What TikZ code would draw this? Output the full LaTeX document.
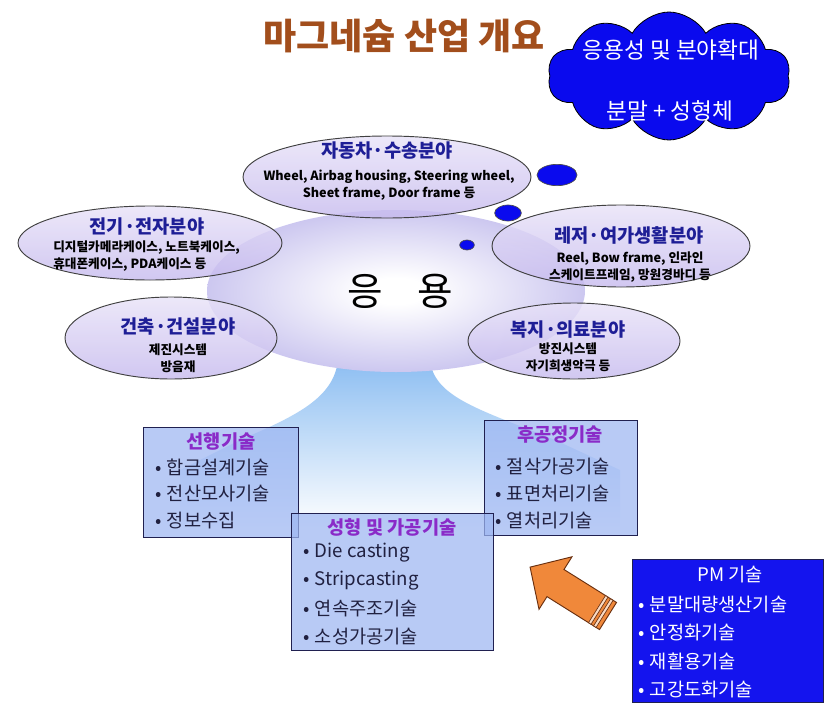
\documentclass[tikz,border=0pt]{standalone}
\usepackage{fontspec}
\setmainfont{Noto Sans CJK KR}
\usetikzlibrary{shapes.geometric,shapes.symbols}
\definecolor{titlebrown}{HTML}{A24E1C}
\definecolor{fieldblue}{HTML}{1E1E96}
\definecolor{boxpurple}{HTML}{8A2BC8}
\definecolor{boxtext}{HTML}{202040}
\definecolor{boxfill}{HTML}{9DB6F2}
\definecolor{boxline}{HTML}{202050}
\definecolor{pmblue}{HTML}{1414EE}
\definecolor{cloudblue}{HTML}{0A0AEE}
\definecolor{ellcol}{HTML}{ACA4E6}
\definecolor{elltop}{HTML}{E8E2F8}
\definecolor{ellbot}{HTML}{C6BAEE}
\definecolor{fountain}{HTML}{4A98EA}
\definecolor{arroworange}{HTML}{F0883A}
\definecolor{arrowline}{HTML}{6A3010}
\pgfdeclareradialshading{centershade}{\pgfpoint{0bp}{0bp}}{color(0bp)=(white); color(4bp)=(white); color(28bp)=(ellcol!70); color(50bp)=(ellcol)}
\pgfdeclareverticalshading{fountshade}{100bp}{color(0bp)=(white); color(28bp)=(white); color(62bp)=(fountain!45); color(100bp)=(fountain)}
\tikzset{
  fieldell/.style={ellipse, draw=black!75, line width=0.7pt, top color=elltop, bottom color=ellbot, fill opacity=0.8, inner sep=0pt},
  fieldtitle/.style={font=\bfseries\fontsize{14}{16}\selectfont, text=fieldblue, inner sep=0pt},
  fieldsub/.style={font=\bfseries\fontsize{9.5}{13}\selectfont, align=center, inner sep=0pt},
  techbox/.style={rectangle, draw=boxline, line width=0.6pt, fill=boxfill, fill opacity=0.72, inner sep=0pt},
  boxtitle/.style={font=\bfseries\fontsize{14}{16}\selectfont, text=boxpurple, inner sep=0pt},
  boxitem/.style={font=\fontsize{14}{16}\selectfont, anchor=west, text=boxtext, inner sep=0pt},
  pmitem/.style={boxitem, text=white},
  bubble/.style={ellipse, draw=black!70, line width=0.5pt, fill=cloudblue, inner sep=0pt},
}
\begin{document}
\begin{tikzpicture}[x=0.75pt,y=-0.75pt]
\useasboundingbox (0,0) rectangle (838,710);
\fill[white] (0,0) rectangle (838,710);

% fountain
\shade[shading=fountshade]
  (338,360) .. controls (334,398) and (296,416) .. (240,440) -- (180,470) -- (180,540) -- (620,540) -- (620,470) -- (555,440) .. controls (482,410) and (434,398) .. (430,360) -- cycle;

% central ellipse
\node[ellipse, shading=centershade, minimum width=283.5pt, minimum height=121.5pt, inner sep=0pt] (app) at (396,291) {};
\node[font=\fontsize{29}{30}\selectfont, inner sep=0pt] (apptext) at (400,291) {응\hspace{0.9em}용};

% field ellipses
\node[fieldell, minimum width=216pt, minimum height=61.5pt] (auto) at (387,177) {};
\node[fieldtitle] (autot) at (387,151) {자동차·수송분야};
\node[fieldsub] (autos) at (389,185) {Wheel, Airbag housing, Steering wheel,\\Sheet frame, Door frame 등};

\node[fieldell, minimum width=198pt, minimum height=55.5pt] (elec) at (150,243) {};
\node[fieldtitle] (elect) at (147,227) {전기·전자분야};
\node[fieldsub, align=left, anchor=west] (elecs) at (53,256) {디지털카메라케이스, 노트북케이스,\\휴대폰케이스, PDA케이스 등};

\node[fieldell, minimum width=193.5pt, minimum height=61.5pt] (leis) at (621,246) {};
\node[fieldtitle] (leist) at (629,235) {레저·여가생활분야};
\node[fieldsub] (leiss) at (630,267) {Reel, Bow frame, 인라인\\스케이트프레임, 망원경바디 등};

\node[fieldell, minimum width=159pt, minimum height=61.5pt] (arch) at (171,338) {};
\node[fieldtitle] (archt) at (178,327) {건축·건설분야};
\node[fieldsub] (archs) at (178,358.5) {제진시스템\\방음재};

\node[fieldell, minimum width=159pt, minimum height=57pt] (welf) at (574,341) {};
\node[fieldtitle] (welft) at (568,330) {복지·의료분야};
\node[fieldsub] (welfs) at (568,357.5) {방진시스템\\자기희생악극 등};

% thought bubbles
\node[bubble, minimum width=30pt, minimum height=16pt] (b1) at (557,175) {};
\node[bubble, minimum width=20pt, minimum height=12pt] (b2) at (508,213) {};
\node[bubble, minimum width=11pt, minimum height=7.5pt] (b3) at (467,245) {};

% technology boxes
\node[techbox, minimum width=116.25pt, minimum height=82.5pt] (pre) at (220.5,482) {};
\node[boxtitle] (pret) at (221,442) {선행기술};
\foreach \t [count=\i] in {합금설계기술, 전산모사기술, 정보수집}
  \node[boxitem] (pre\i) at (155,440+27*\i) {•\hspace{4pt}\t};

\node[techbox, minimum width=114.75pt, minimum height=86.25pt] (post) at (560.5,477.5) {};
\node[boxtitle] (postt) at (560,435) {후공정기술};
\foreach \t [count=\i] in {절삭가공기술, 표면처리기술, 열처리기술}
  \node[boxitem] (post\i) at (495,440+27*\i) {•\hspace{4pt}\t};

\node[techbox, minimum width=151.5pt, minimum height=102.75pt] (form) at (392,581.5) {};
\node[boxtitle] (formt) at (392,527) {성형 및 가공기술};
\foreach \t [count=\i] in {Die casting, Stripcasting, 연속주조기술, 소성가공기술}
  \node[boxitem] (form\i) at (303,525+28*\i) {•\hspace{4pt}\t};

% orange arrow
\begin{scope}[shift={(608,616)}, rotate=147.9]
  \filldraw[fill=arroworange, draw=arrowline, line width=0.7pt, line join=miter]
    (0,-16) -- (62,-16) -- (62,-31) -- (92,0) -- (62,31) -- (62,16) -- (0,16) -- cycle;
  \filldraw[fill=arroworange!30, draw=arrowline, line width=0.5pt] (4,-16) rectangle (7,16);
  \filldraw[fill=arroworange!30, draw=arrowline, line width=0.5pt] (10,-16) rectangle (13,16);
\end{scope}

% PM box
\node[rectangle, draw=boxline, line width=0.6pt, fill=pmblue, minimum width=143.25pt, minimum height=107.25pt, inner sep=0pt] (pm) at (727.5,630.5) {};
\node[font=\fontsize{14}{16}\selectfont, text=white, inner sep=0pt] (pmt) at (730,575) {PM 기술};
\foreach \t [count=\i] in {분말대량생산기술, 안정화기술, 재활용기술, 고강도화기술}
  \node[pmitem] (pm\i) at (638,577+28*\i) {•\hspace{4pt}\t};

% cloud
\node[cloud, cloud puffs=10, cloud puff arc=120, aspect=1.9, draw=black, line width=0.6pt, fill=cloudblue, minimum width=182pt, minimum height=96pt, inner sep=0pt] (cloud) at (669,76) {};
\node[font=\fontsize{17}{20}\selectfont, text=white, inner sep=0pt] (cloud1) at (671,50) {응용성 및 분야확대};
\node[font=\fontsize{17}{20}\selectfont, text=white, inner sep=0pt] (cloud2) at (670,111) {분말 + 성형체};

% title
\node[font=\bfseries\fontsize{27}{30}\selectfont, text=titlebrown, inner sep=0pt] (title) at (404,36) {마그네슘 산업 개요};
\end{tikzpicture}
\end{document}
